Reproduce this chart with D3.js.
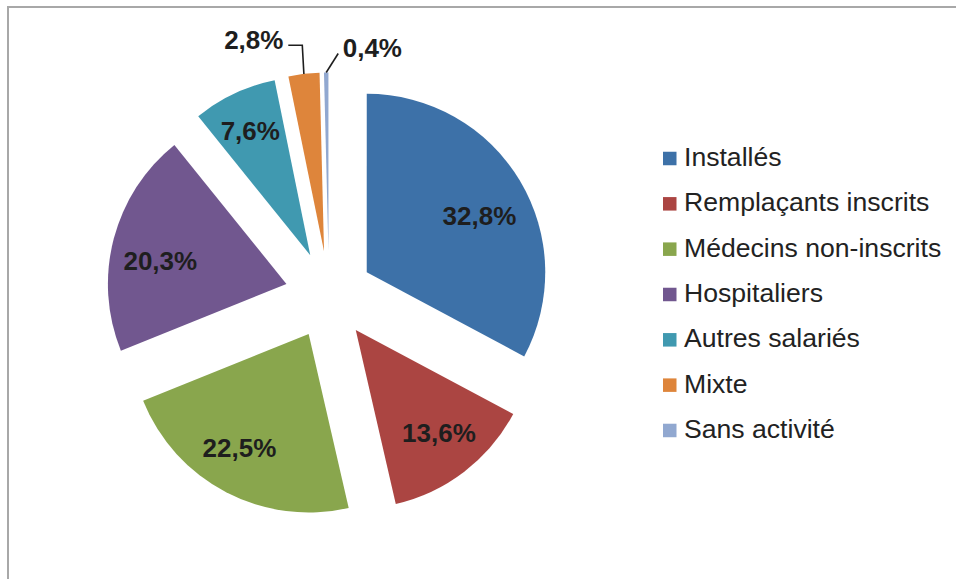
<!DOCTYPE html>
<html>
<head>
<meta charset="utf-8">
<script src="https://cdn.jsdelivr.net/npm/d3@7"></script>
<style>
  html, body { margin: 0; padding: 0; background: #fff; }
  svg { display: block; }
</style>
</head>
<body>
<svg id="chart" width="956" height="579"></svg>
<script>
// ---- Data ----
const categories = ["Installés", "Remplaçants inscrits", "Médecins non-inscrits", "Hospitaliers", "Autres salariés", "Mixte", "Sans activité"];
const values = [32.8, 13.6, 22.5, 20.3, 7.6, 2.8, 0.4];
const valueLabels = ["32,8%", "13,6%", "22,5%", "20,3%", "7,6%", "2,8%", "0,4%"];
const colors = ["#3D71A8", "#AB4542", "#89A64D", "#71578F", "#4099B0", "#DE853B", "#91A8D0"];

// ---- Layout ----
const W = 956, H = 579;
const cx = 329, cy = 295, R = 178.5, explode = 44;
const labelFactor = 0.73;
const labelNudge = [[1, 10], [4, -1], [-9, -2], [0, 10], [-4.5, -6.5], [0, 0], [0, 0]];

const svg = d3.select("#chart");

// frame
svg.append("rect")
  .attr("x", 8).attr("y", 7)
  .attr("width", W + 20).attr("height", H + 20)
  .attr("fill", "none")
  .attr("stroke", "#a8a8a8")
  .attr("stroke-width", 2);

const data = categories.map((c, i) => ({ name: c, value: values[i], label: valueLabels[i], color: colors[i], i }));

const pie = d3.pie().sort(null).value(d => d.value).startAngle(0).endAngle(2 * Math.PI);
const arcs = pie(data);
const arc = d3.arc().innerRadius(0).outerRadius(R);

const g = svg.append("g").attr("transform", `translate(${cx},${cy})`);

arcs.forEach(a => {
  const mid = (a.startAngle + a.endAngle) / 2;
  a.mid = mid;
  a.dx = Math.sin(mid) * explode;
  a.dy = -Math.cos(mid) * explode;
});

g.selectAll("path.slice")
  .data(arcs)
  .enter().append("path")
  .attr("class", "slice")
  .attr("d", arc)
  .attr("transform", d => `translate(${d.dx},${d.dy})`)
  .attr("fill", d => d.data.color);

const fsLab = 26;
// inside labels for big slices
arcs.forEach((a, k) => {
  if (a.data.value < 5) return;
  const lx = a.dx + Math.sin(a.mid) * R * labelFactor + labelNudge[k][0];
  const ly = a.dy - Math.cos(a.mid) * R * labelFactor + labelNudge[k][1];
  g.append("text")
    .attr("x", lx).attr("y", ly + fsLab * 0.36)
    .attr("text-anchor", "middle")
    .attr("font-family", "Liberation Sans, Arial, sans-serif")
    .attr("font-weight", "bold")
    .attr("font-size", fsLab)
    .attr("fill", "#1e1e1e")
    .text(a.data.label);
});

// outside labels with leader lines for small slices
const outside = [
  { k: 5, pts: [[-1.6, -28.6], [-15.6, -28.6]], text: [-20.5, -34.5], anchor: "end" },
  { k: 6, pts: [[12, -19]], text: [16.5, -25], anchor: "start" }
];
outside.forEach(o => {
  const a = arcs[o.k];
  const ox = a.dx + Math.sin(a.mid) * R;
  const oy = a.dy - Math.cos(a.mid) * R;
  const line = [[ox, oy]].concat(o.pts.map(p => [ox + p[0], oy + p[1]]));
  g.append("path")
    .attr("d", d3.line()(line))
    .attr("fill", "none")
    .attr("stroke", "#1e1e1e")
    .attr("stroke-width", 1.6);
  g.append("text")
    .attr("x", ox + o.text[0]).attr("y", oy + o.text[1] + fsLab * 0.36)
    .attr("text-anchor", o.anchor)
    .attr("font-family", "Liberation Sans, Arial, sans-serif")
    .attr("font-weight", "bold")
    .attr("font-size", fsLab)
    .attr("fill", "#1e1e1e")
    .text(a.data.label);
});

// legend
const legY0 = 158.5, legStep = 45.33, legX = 663, sq = 13.5;
const leg = svg.append("g");
data.forEach((d, i) => {
  const y = legY0 + i * legStep;
  leg.append("rect")
    .attr("x", legX).attr("y", y - sq / 2)
    .attr("width", sq).attr("height", sq)
    .attr("fill", d.color);
  leg.append("text")
    .attr("x", legX + 21).attr("y", y + 7.5)
    .attr("font-family", "Liberation Sans, Arial, sans-serif")
    .attr("font-size", 26.6)
    .attr("fill", "#222")
    .text(d.name);
});
</script>
</body>
</html>
